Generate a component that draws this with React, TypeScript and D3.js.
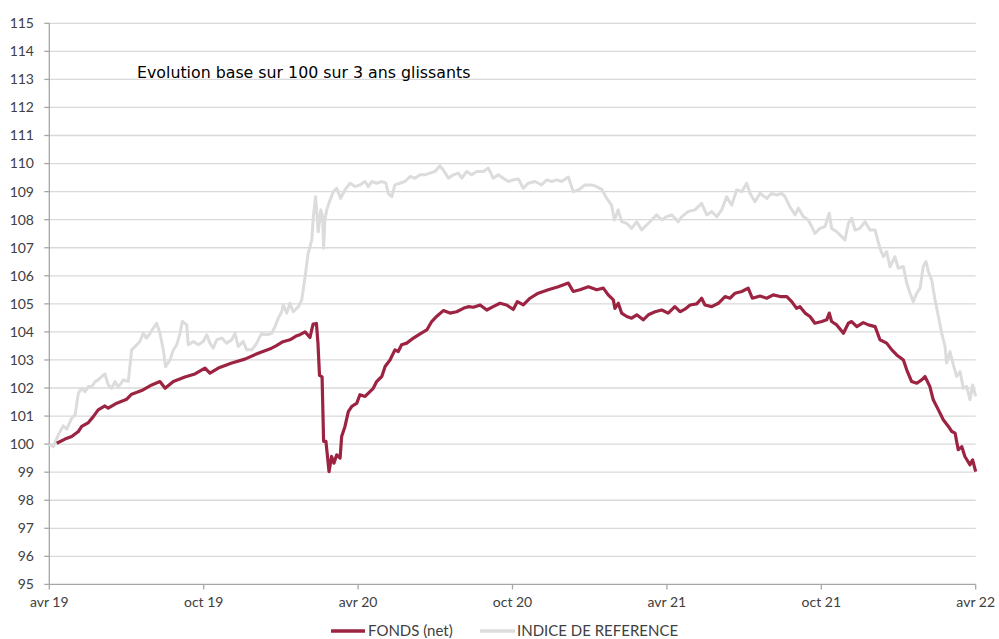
import React from "react";
import * as d3 from "d3";

// Time expressed in months since April 2019
const tickMonths = [0, 6, 12, 18, 24, 30, 36];
const tickLabels = ["avr 19", "oct 19", "avr 20", "oct 20", "avr 21", "oct 21", "avr 22"];
const yTicks = d3.range(95, 116);

const fondsMonths = [
  0.29, 0.61, 0.87, 1.13, 1.26, 1.52, 1.71, 1.90, 2.16, 2.29, 2.62, 3.01, 3.20, 3.59, 3.98, 4.30, 4.50, 4.82, 5.27, 5.66,
  6.05, 6.24, 6.57, 7.09, 7.60, 8.12, 8.64, 8.81, 9.08, 9.35, 9.59, 9.74, 9.94, 10.13, 10.25, 10.38, 10.44, 10.50, 10.60, 10.66,
  10.75, 10.87, 10.97, 11.06, 11.17, 11.30, 11.36, 11.49, 11.62, 11.75, 11.95, 12.07, 12.27, 12.40, 12.59, 12.72, 12.92, 13.05, 13.24, 13.43,
  13.56, 13.69, 13.89, 14.15, 14.41, 14.67, 14.86, 15.05, 15.31, 15.57, 15.83, 16.09, 16.28, 16.48, 16.74, 17.00, 17.25, 17.51, 17.77, 18.03,
  18.19, 18.42, 18.68, 19.00, 19.39, 19.78, 20.17, 20.36, 20.62, 20.95, 21.27, 21.53, 21.72, 21.92, 21.98, 22.11, 22.24, 22.44, 22.63, 22.83,
  23.08, 23.28, 23.54, 23.80, 24.05, 24.31, 24.51, 24.70, 24.90, 25.16, 25.35, 25.48, 25.74, 26.00, 26.26, 26.45, 26.65, 26.91, 27.16, 27.32,
  27.62, 27.88, 28.13, 28.40, 28.66, 28.85, 29.04, 29.17, 29.37, 29.56, 29.75, 30.02, 30.21, 30.31, 30.40, 30.60, 30.86, 31.05, 31.18, 31.38,
  31.63, 31.83, 32.09, 32.28, 32.54, 32.74, 32.93, 33.19, 33.32, 33.51, 33.71, 33.90, 34.03, 34.22, 34.35, 34.55, 34.74, 34.94, 35.07, 35.20,
  35.32, 35.46, 35.58, 35.78, 35.88, 36.0,
];
const fondsValues = [
  100.03, 100.18, 100.27, 100.45, 100.63, 100.77, 100.98, 101.22, 101.36, 101.28, 101.46, 101.60, 101.78, 101.91, 102.11, 102.23, 101.99, 102.23, 102.39, 102.50,
  102.71, 102.53, 102.71, 102.89, 103.03, 103.24, 103.42, 103.50, 103.65, 103.72, 103.85, 103.90, 104.00, 103.80, 104.28, 104.30, 103.60, 102.45, 102.40, 100.10,
  100.10, 99.02, 99.56, 99.32, 99.62, 99.50, 100.27, 100.63, 101.16, 101.34, 101.46, 101.76, 101.70, 101.82, 101.99, 102.23, 102.41, 102.77, 103.00, 103.36,
  103.30, 103.54, 103.60, 103.78, 103.93, 104.07, 104.37, 104.55, 104.76, 104.67, 104.72, 104.84, 104.90, 104.88, 104.96, 104.78, 104.90, 105.02, 104.96, 104.80,
  105.08, 104.96, 105.20, 105.38, 105.50, 105.61, 105.74, 105.44, 105.50, 105.61, 105.50, 105.56, 105.32, 105.14, 104.84, 105.02, 104.67, 104.55, 104.49, 104.61,
  104.43, 104.61, 104.72, 104.78, 104.67, 104.90, 104.72, 104.81, 104.96, 105.00, 105.20, 104.96, 104.90, 105.02, 105.26, 105.20, 105.38, 105.44, 105.56, 105.20,
  105.28, 105.20, 105.32, 105.26, 105.26, 105.08, 104.84, 104.90, 104.67, 104.55, 104.31, 104.37, 104.43, 104.67, 104.37, 104.25, 103.95, 104.31, 104.37, 104.19,
  104.33, 104.25, 104.19, 103.72, 103.60, 103.36, 103.18, 103.00, 102.65, 102.23, 102.17, 102.29, 102.41, 102.05, 101.58, 101.22, 100.87, 100.63, 100.45, 100.39,
  99.80, 99.91, 99.56, 99.26, 99.44, 99.02,
];

const indiceMonths = [
  0.0, 0.16, 0.35, 0.54, 0.68, 0.87, 1.00, 1.13, 1.26, 1.39, 1.52, 1.65, 1.78, 1.90, 2.04, 2.16, 2.29, 2.42, 2.55, 2.68,
  2.88, 3.07, 3.20, 3.40, 3.52, 3.65, 3.78, 3.91, 4.04, 4.17, 4.30, 4.43, 4.52, 4.69, 4.82, 4.95, 5.08, 5.17, 5.34, 5.40,
  5.60, 5.79, 5.98, 6.12, 6.24, 6.37, 6.51, 6.70, 6.89, 7.09, 7.22, 7.34, 7.54, 7.67, 7.87, 8.06, 8.25, 8.45, 8.64, 8.77,
  8.90, 9.03, 9.09, 9.23, 9.35, 9.48, 9.68, 9.81, 9.94, 10.06, 10.20, 10.26, 10.35, 10.45, 10.55, 10.62, 10.66, 10.71, 10.78, 10.91,
  11.04, 11.17, 11.32, 11.49, 11.69, 11.88, 12.07, 12.27, 12.40, 12.53, 12.72, 12.92, 13.08, 13.17, 13.31, 13.43, 13.63, 13.82, 14.02, 14.21,
  14.41, 14.60, 14.79, 14.99, 15.18, 15.31, 15.51, 15.70, 15.89, 16.03, 16.22, 16.41, 16.61, 16.87, 17.06, 17.25, 17.45, 17.64, 17.84, 18.03,
  18.23, 18.42, 18.61, 18.87, 19.13, 19.33, 19.52, 19.72, 19.91, 20.17, 20.36, 20.56, 20.82, 21.08, 21.27, 21.47, 21.66, 21.85, 21.96, 22.11,
  22.24, 22.44, 22.63, 22.83, 23.02, 23.21, 23.41, 23.60, 23.80, 23.99, 24.19, 24.44, 24.58, 24.83, 25.09, 25.35, 25.55, 25.74, 25.94, 26.13,
  26.32, 26.52, 26.71, 26.91, 27.10, 27.23, 27.42, 27.62, 27.88, 28.07, 28.27, 28.46, 28.59, 28.78, 28.98, 29.11, 29.30, 29.49, 29.63, 29.75,
  29.95, 30.14, 30.31, 30.40, 30.60, 30.73, 30.92, 31.05, 31.18, 31.31, 31.50, 31.70, 31.89, 32.09, 32.28, 32.41, 32.54, 32.67, 32.86, 32.99,
  33.19, 33.32, 33.45, 33.57, 33.71, 33.84, 33.96, 34.07, 34.16, 34.29, 34.42, 34.55, 34.68, 34.81, 34.87, 35.00, 35.13, 35.26, 35.39, 35.52,
  35.65, 35.78, 35.88, 36.0,
];
const indiceValues = [
  100.0, 99.91, 100.33, 100.65, 100.53, 100.93, 101.04, 101.82, 101.99, 101.87, 102.05, 102.05, 102.23, 102.29, 102.41, 102.50, 102.11, 101.99, 102.23, 102.03,
  102.29, 102.23, 103.36, 103.54, 103.66, 103.95, 103.78, 103.95, 104.13, 104.31, 103.95, 103.36, 102.76, 103.00, 103.36, 103.54, 103.95, 104.37, 104.25, 103.54,
  103.66, 103.54, 103.66, 103.90, 103.60, 103.42, 103.72, 103.78, 103.60, 103.72, 103.95, 103.48, 103.66, 103.36, 103.36, 103.60, 103.95, 103.90, 103.95, 104.19,
  104.49, 104.72, 104.96, 104.67, 105.02, 104.72, 104.90, 105.14, 105.97, 106.80, 107.28, 108.11, 108.82, 107.57, 108.35, 108.11, 106.98, 107.99, 108.35, 108.70,
  109.00, 109.12, 108.76, 109.06, 109.30, 109.18, 109.24, 109.36, 109.18, 109.36, 109.30, 109.36, 109.30, 108.94, 108.82, 109.24, 109.30, 109.36, 109.54, 109.48,
  109.60, 109.60, 109.66, 109.72, 109.92, 109.77, 109.48, 109.60, 109.66, 109.48, 109.72, 109.60, 109.72, 109.72, 109.84, 109.48, 109.60, 109.48, 109.36, 109.42,
  109.45, 109.12, 109.30, 109.36, 109.24, 109.42, 109.36, 109.42, 109.36, 109.52, 109.00, 109.06, 109.24, 109.24, 109.18, 109.08, 108.76, 108.52, 107.99, 108.35,
  107.93, 107.87, 107.69, 107.93, 107.63, 107.81, 107.99, 108.17, 107.99, 108.11, 108.17, 107.93, 108.11, 108.29, 108.35, 108.58, 108.17, 108.29, 108.11, 108.35,
  108.82, 108.52, 109.06, 109.00, 109.30, 108.94, 108.64, 108.94, 108.76, 108.94, 108.88, 108.94, 108.82, 108.46, 108.17, 108.41, 108.11, 107.99, 107.75, 107.51,
  107.69, 107.75, 108.23, 107.69, 107.57, 107.45, 107.28, 107.87, 108.05, 107.63, 107.69, 107.93, 107.63, 107.63, 106.98, 106.68, 106.86, 106.32, 106.68, 106.27,
  106.33, 105.74, 105.38, 105.08, 105.38, 105.56, 106.33, 106.51, 106.15, 105.86, 105.14, 104.55, 103.95, 103.48, 102.89, 103.30, 102.83, 102.41, 102.59, 101.99,
  102.05, 101.58, 102.11, 101.70,
];

const seriesNames = ["FONDS (net)", "INDICE DE REFERENCE"];
const seriesColors = ["#9c2442", "#dcdcdc"];
const title = "Evolution base sur 100 sur 3 ans glissants";

const W = 999;
const H = 639;
const FONT = "'Lato', 'Open Sans', sans-serif";
const TITLE_FONT = "'DejaVu Sans', sans-serif";

export default function App() {
  const x = d3.scaleLinear().domain([0, 36]).range([49.3, 975.7]);
  const y = d3.scaleLinear().domain([95, 115]).range([584.4, 23.3]);

  const line = d3
    .line<[number, number]>()
    .x((d) => x(d[0]))
    .y((d) => y(d[1]));

  const fonds: [number, number][] = fondsMonths.map((m, i) => [m, fondsValues[i]]);
  const indice: [number, number][] = indiceMonths.map((m, i) => [m, indiceValues[i]]);

  const [x0, x1] = x.range();
  const yBase = y(95);

  return (
    <svg
      width={W}
      height={H}
      style={{ position: "absolute", left: 0, top: 0, background: "#fff" }}
      fontFamily={FONT}
    >
      {/* gridlines */}
      {yTicks.map((t) =>
        t === 95 ? null : (
          <line key={"g" + t} x1={x0} x2={x1} y1={y(t)} y2={y(t)} stroke="#d9d9d9" strokeWidth={1.3} />
        )
      )}
      {/* y axis */}
      <line x1={x0} x2={x0} y1={y(115)} y2={yBase} stroke="#a6a6a6" strokeWidth={1.3} />
      {yTicks.map((t) => (
        <g key={"y" + t}>
          <line x1={x0 - 5} x2={x0} y1={y(t)} y2={y(t)} stroke="#a6a6a6" strokeWidth={1.3} />
          <text x={34} y={y(t)} dy="0.35em" textAnchor="end" fontSize={14} fill="#404040">
            {t}
          </text>
        </g>
      ))}
      {/* x axis */}
      <line x1={x0} x2={x1} y1={yBase} y2={yBase} stroke="#a6a6a6" strokeWidth={1.3} />
      {tickMonths.map((m, i) => (
        <g key={"x" + m}>
          <line x1={x(m)} x2={x(m)} y1={yBase} y2={yBase + 5} stroke="#a6a6a6" strokeWidth={1.3} />
          <text x={x(m)} y={607} textAnchor="middle" fontSize={14} fill="#404040">
            {tickLabels[i]}
          </text>
        </g>
      ))}

      {/* series */}
      <path d={line(indice) || ""} fill="none" stroke={seriesColors[1]} strokeWidth={3} strokeLinejoin="round" />
      <path d={line(fonds) || ""} fill="none" stroke={seriesColors[0]} strokeWidth={3.2} strokeLinejoin="round" />

      {/* title */}
      <text x={137} y={77.5} fontSize={15.8} fill="#000" fontFamily={TITLE_FONT}>
        {title}
      </text>

      {/* legend */}
      <line x1={331} x2={365} y1={631} y2={631} stroke={seriesColors[0]} strokeWidth={3.5} />
      <text x={368} y={635.5} fontSize={15} fill="#404040">
        {seriesNames[0]}
      </text>
      <line x1={480} x2={515} y1={631} y2={631} stroke={seriesColors[1]} strokeWidth={3.5} />
      <text x={517} y={635.5} fontSize={15} fill="#404040">
        {seriesNames[1]}
      </text>
    </svg>
  );
}
